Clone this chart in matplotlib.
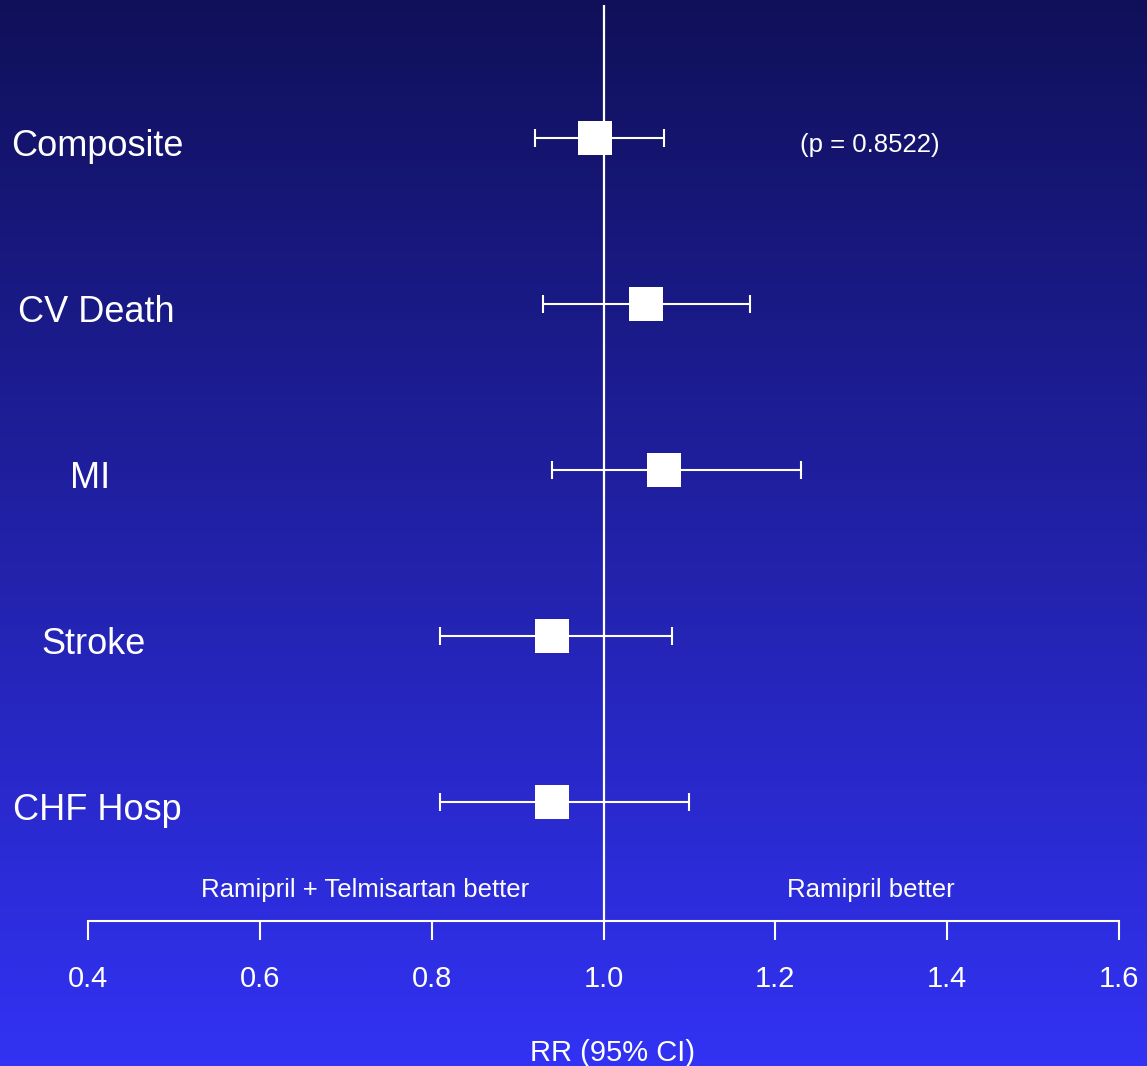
import numpy as np
import matplotlib
matplotlib.use("Agg")
import matplotlib.pyplot as plt
from matplotlib.colors import LinearSegmentedColormap

plt.rcParams['font.family'] = ['Liberation Sans', 'DejaVu Sans']

# ---- data ----
categories = ["Composite", "CV Death", "MI", "Stroke", "CHF Hosp"]
rr = [0.99, 1.05, 1.07, 0.94, 0.94]
ci_low = [0.92, 0.93, 0.94, 0.81, 0.81]
ci_high = [1.07, 1.17, 1.23, 1.08, 1.10]
xticks = [0.4, 0.6, 0.8, 1.0, 1.2, 1.4, 1.6]
xtick_labels = ["0.4", "0.6", "0.8", "1.0", "1.2", "1.4", "1.6"]
p_text = "(p = 0.8522)"
left_label = "Ramipril + Telmisartan better"
right_label = "Ramipril better"
xlabel = "RR (95% CI)"

# layout (pixel centres of the row labels, as on the slide)
label_x_px = [97.5, 96, 90, 93.5, 97]

W, H = 1147, 1066
fig = plt.figure(figsize=(W / 100, H / 100), dpi=100)
ax = fig.add_axes([0, 0, 1, 1])

# pixel mapping: x=0.4 -> 88px, x=1.6 -> 1119px ; row i -> 138 + 166 i px
ppu = (1119 - 88) / 1.2
x0 = 0.4 - 88 / ppu
x1 = 0.4 + (W - 88) / ppu
y_top = -138 / 166
y_bot = (H - 138) / 166
ax.set_xlim(x0, x1)
ax.set_ylim(y_bot, y_top)


def px_x(p):
    return x0 + p / ppu


def px_y(p):
    return (p - 138) / 166


# background gradient
cmap = LinearSegmentedColormap.from_list("bg", ["#10105a", "#3232f4"])
grad = np.linspace(0, 1, 256).reshape(-1, 1)
ax.imshow(grad, cmap=cmap, aspect="auto", extent=[x0, x1, y_bot, y_top],
          zorder=0, interpolation="bilinear")

ypos = np.arange(len(categories))
axis_y = px_y(921)

# reference line at 1.0
ax.vlines(1.0, px_y(5), axis_y, color="white", lw=1.6, zorder=2)

# error bars and squares
ax.errorbar(rr, ypos,
            xerr=[np.array(rr) - np.array(ci_low), np.array(ci_high) - np.array(rr)],
            fmt="none", ecolor="white", elinewidth=1.5, capsize=6.5, capthick=1.5,
            zorder=3)
ax.plot(rr, ypos, "s", color="white", ms=24, mew=0, zorder=4)

# category labels (baseline 18 px below row centre)
for i, c in enumerate(categories):
    ax.text(px_x(label_x_px[i]), i + 18 / 166, c, color="white", fontsize=26,
            ha="center", va="baseline")

ax.text(1.31, 0.045, p_text, color="white", fontsize=18.5, ha="center", va="center")
ax.text(0.7224, px_y(890), left_label, color="white", fontsize=18.5,
        ha="center", va="center")
ax.text(1.311, px_y(890), right_label, color="white", fontsize=18.5,
        ha="center", va="center")
ax.text(1.01, px_y(1053), xlabel, color="white", fontsize=21,
        ha="center", va="center")

# bottom axis
for s in ["top", "left", "right"]:
    ax.spines[s].set_visible(False)
ax.spines["bottom"].set_position(("data", axis_y))
ax.spines["bottom"].set_bounds(0.4, 1.6)
ax.spines["bottom"].set_color("white")
ax.spines["bottom"].set_linewidth(1.5)
ax.spines["bottom"].set_zorder(5)
ax.set_xticks(xticks)
ax.set_xticklabels(xtick_labels)
ax.tick_params(axis="x", direction="out", length=14, width=1.5, colors="white",
               labelsize=21, pad=18)
ax.set_yticks([])

fig.savefig("out.png", dpi=100)
